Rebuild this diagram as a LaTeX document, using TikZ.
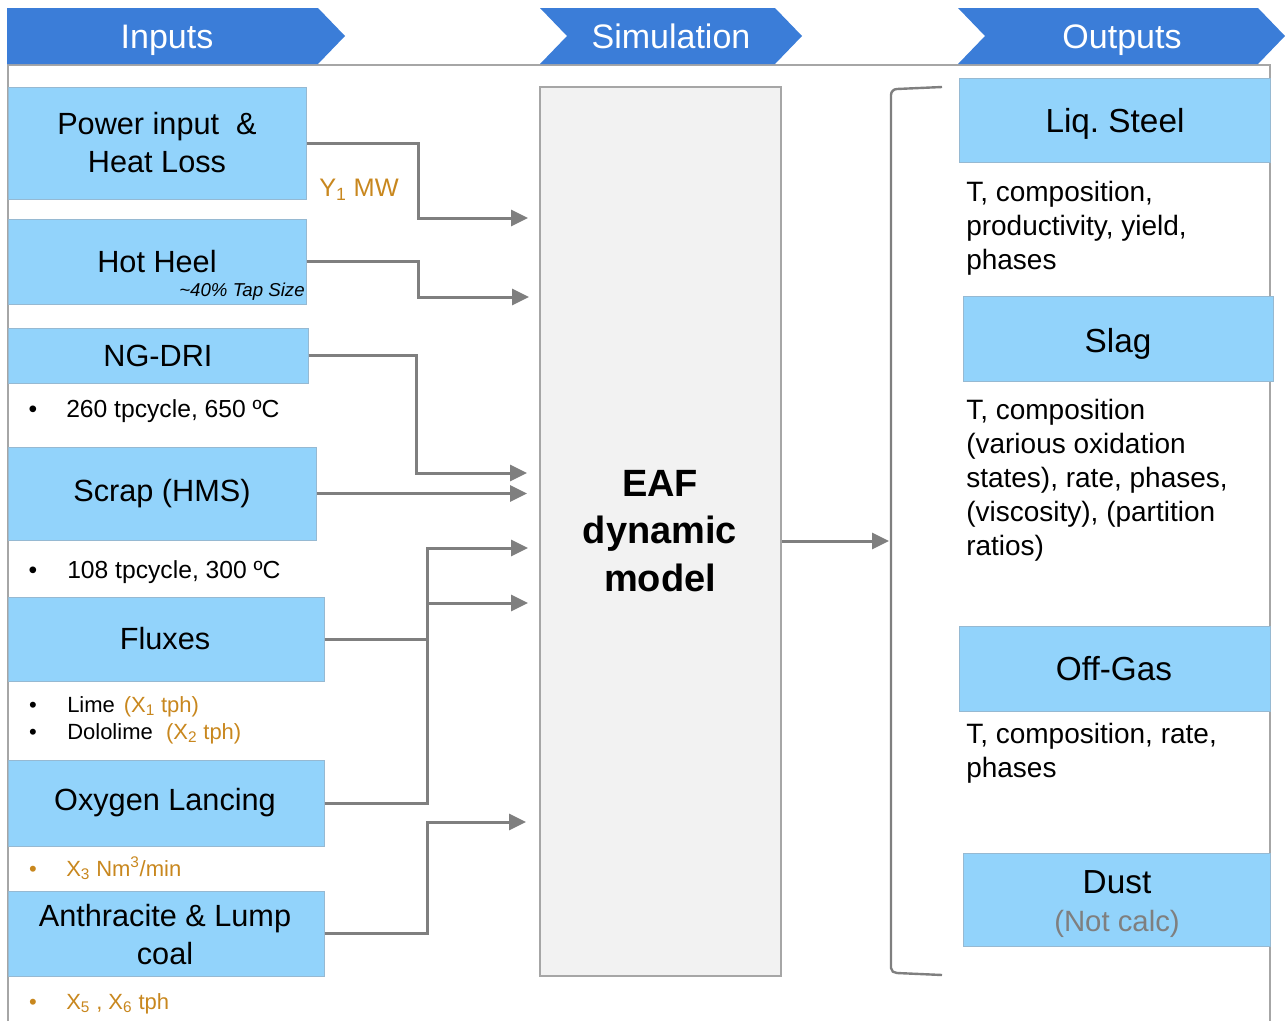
\documentclass[tikz,border=0pt]{standalone}
\usepackage{fontspec}
\setmainfont{Liberation Sans}
\usetikzlibrary{arrows.meta,fit,calc}
\definecolor{bannerblue}{RGB}{59,125,216}
\definecolor{boxblue}{RGB}{146,211,251}
\definecolor{boxedge}{RGB}{150,185,210}
\definecolor{conngray}{RGB}{127,127,127}
\definecolor{framegray}{RGB}{166,166,166}
\definecolor{eafgray}{RGB}{242,242,242}
\definecolor{orangetxt}{RGB}{200,135,30}
\newcommand\fsz[2]{\fontsize{#1}{#2}\selectfont}
\begin{document}
\begin{tikzpicture}[x=0.75pt,y=-0.75pt,
  inbox/.style={draw=boxedge, line width=0.75pt, fill=boxblue, inner sep=0pt},
  inlabel/.style={inner sep=0pt, align=center, font=\fsz{23}{28.5}},
  outlabel/.style={inner sep=0pt, align=center, font=\fsz{25}{28.5}},
  bannertext/.style={text=white, font=\fsz{25.5}{30}, anchor=base, inner sep=0pt},
  conn/.style={draw=conngray, line width=2.25pt, -{Triangle[length=12.75pt,width=12pt]}},
  txt/.style={inner sep=0pt, anchor=base west},
  bul/.style={inner sep=0pt, anchor=base},
  desc/.style={inner sep=0pt, anchor=north west, align=left, font=\fsz{21}{25.5}},
  small/.style={font=\fsz{18.5}{22}},
  tiny/.style={font=\fsz{16.5}{20}},
  orange/.style={text=orangetxt}
]
\useasboundingbox (0,0) rectangle (1285,1021);
% frame
\draw[framegray, line width=1.5pt] (8,1021) -- (8,65) -- (1270,65) -- (1270,1021);
% banners
\fill[bannerblue] (7,8) -- (318,8) -- (345,36) -- (318,64) -- (7,64) -- cycle;
\fill[bannerblue] (540,8) -- (775,8) -- (802,36) -- (775,64) -- (540,64) -- (567,36) -- cycle;
\fill[bannerblue] (958,8) -- (1258,8) -- (1285,36) -- (1258,64) -- (958,64) -- (985,36) -- cycle;
\node[bannertext] (tin) at (167,48) {Inputs};
\node[bannertext] (tsim) at (671,48) {Simulation};
\node[bannertext] (tout) at (1122,48) {Outputs};
% input boxes
\node[inbox, fit={(8,87) (306,199)}] (power) {};
\node[inlabel] (powerl) at (157,143) {Power input \ \&\\Heat Loss};
\node[inbox, fit={(8,219) (306,304)}] (hot) {};
\node[inlabel] (hotl) at (157,262) {Hot Heel};
\node[txt, anchor=base east, font=\fsz{14}{16}\itshape] (tap) at (305,296) {\textasciitilde40\% Tap Size};
\node[inbox, fit={(8,328) (308,383)}] (ngdri) {};
\node[inlabel] (ngdril) at (158,355.5) {NG-DRI};
\node[inbox, fit={(8,447) (316,540)}] (scrap) {};
\node[inlabel] (scrapl) at (162,493.5) {Scrap (HMS)};
\node[inbox, fit={(8,597) (324,681)}] (fluxes) {};
\node[inlabel] (fluxesl) at (165,639) {Fluxes};
\node[inbox, fit={(8,760) (324,846)}] (oxygen) {};
\node[inlabel] (oxygenl) at (165,803) {Oxygen Lancing};
\node[inbox, fit={(8,891) (324,976)}] (anth) {};
\node[inlabel] (anthl) at (165,935) {Anthracite \& Lump\\coal};
% bullets
\node[bul, small] (b1) at (33,417) {•};
\node[txt, small] (ngt) at (66,417) {260 tpcycle, 650 ºC};
\node[bul, small] (b2) at (33,578) {•};
\node[txt, small] (sct) at (67,578) {108 tpcycle, 300 ºC};
\node[bul, tiny] (b3) at (33,712) {•};
\node[txt, tiny] (lime) at (67,712) {Lime\hspace{0.4em}{\color{orangetxt}(X\textsubscript{1} tph)}};
\node[bul, tiny] (b4) at (33,739) {•};
\node[txt, tiny] (dolo) at (67,739) {Dololime\hspace{0.6em}{\color{orangetxt}(X\textsubscript{2} tph)}};
\node[bul, tiny, orange] (b5) at (33,876) {•};
\node[txt, tiny, orange] (oxt) at (66,876) {X\textsubscript{3} Nm\textsuperscript{3}/min};
\node[bul, tiny, orange] (b6) at (33,1009) {•};
\node[txt, tiny, orange] (ant) at (66,1009) {X\textsubscript{5} , X\textsubscript{6} tph};
\node[txt, orange, font=\fsz{19}{22}] (y1) at (319,196) {Y\textsubscript{1} MW};
% EAF
\node[draw=framegray, line width=1.8pt, fill=eafgray, inner sep=0pt, fit={(540,87) (781,976)}] (eaf) {};
\node[inner sep=0pt, align=center, font=\fsz{28.5}{35.6}\bfseries] (eafl) at (660,531) {EAF\\dynamic\\model};
% targets
\coordinate (t1) at (528,218);
\coordinate (t2) at (529,297);
\coordinate (t3) at (527,473);
\coordinate (t4) at (527,493.5);
\coordinate (t5) at (528,548);
\coordinate (t6) at (528,603);
\coordinate (t7) at (526,822);
\coordinate (br) at (889,541);
% connectors
\draw[conn] (power.east) -- ++(112,0) |- (t1);
\draw[conn] (hot.east) -- ++(112,0) |- (t2);
\draw[conn] (ngdri.east) -- ++(108,0) |- (t3);
\draw[conn] (scrap.east) -- (t4);
\draw[conn] (fluxes.east) -- ++(103,0) |- (t6);
\draw[conn] (oxygen.east) -- ++(103,0) |- (t5);
\draw[conn] (anth.east) -- ++(103,0) |- (t7);
\draw[conn] (eaf.east |- br) -- (br);
% bracket
\draw[conngray, line width=1.8pt] (942,87) -- (897,89) to[out=180,in=90] (891,95) -- (891,968) to[out=-90,in=180] (897,973) -- (942,975);
% output boxes
\node[inbox, fit={(959,78) (1270,162)}] (steel) {};
\node[outlabel] (steell) at (1115,124) {Liq.\ Steel};
\node[desc] (steeld) at (966,177) {\strut T, composition,\\productivity, yield,\\phases};
\node[inbox, fit={(963,296) (1273,381)}] (slag) {};
\node[outlabel] (slagl) at (1118,344) {Slag};
\node[desc] (slagd) at (966,395) {\strut T, composition\\(various oxidation\\states), rate, phases,\\(viscosity), (partition\\ratios)};
\node[inbox, fit={(959,626) (1270,711)}] (offgas) {};
\node[outlabel] (offgasl) at (1114,669) {Off-Gas};
\node[inbox, fit={(963,853) (1270,946)}] (dust) {};
\node[outlabel] (dustl) at (1117,904) {Dust\\{\fsz{22}{28.5}\color{conngray}(Not calc)}};
\node[desc] (offgasd) at (966,719) {\strut T, composition, rate,\\phases};
\end{tikzpicture}
\end{document}
